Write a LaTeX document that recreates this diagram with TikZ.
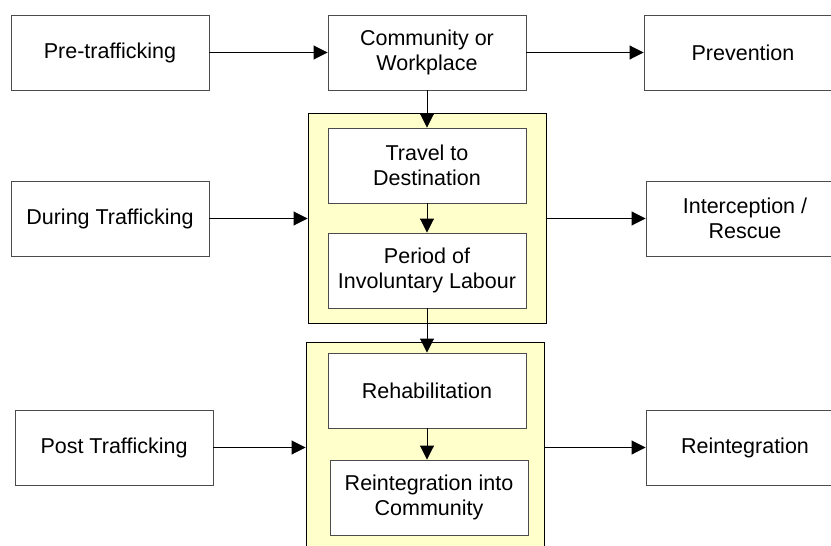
\documentclass[tikz,border=0pt]{standalone}
\usepackage{fontspec}
\setmainfont{Liberation Sans}
\usetikzlibrary{arrows.meta}
\definecolor{phasefill}{HTML}{FFFFCC}
\tikzset{
	stage/.style={draw=black!70, line width=0.9pt, fill=white, minimum width=198pt, minimum height=75pt, inner sep=2pt, align=center, font=\fontsize{21.5}{25}\selectfont},
	phase/.style={draw=black, line width=0.9pt, fill=phasefill, inner sep=0pt},
	flow/.style={-{Triangle[length=14pt,width=14pt]}, line width=0.9pt, black}
}
\begin{document}
\begin{tikzpicture}[x=1pt,y=-1pt]
	\clip (0,0) rectangle (831,546);
	% yellow phase frames
	\node[phase, minimum width=238pt, minimum height=210pt] (during) at (427,218) {};
	\node[phase, minimum width=238pt, minimum height=218pt] (post) at (425,451) {};
	% left column
	\node[stage] (pre) at (110,52.5) {Pre-trafficking};
	\node[stage] (dur) at (110,218.5) {During Trafficking};
	\node[stage] (pst) at (114,447.5) {Post Trafficking};
	% middle column
	\node[stage] (comm) at (427,52.5) {Community or\\Workplace};
	\node[stage] (travel) at (427,165.5) {Travel to\\Destination};
	\node[stage] (labour) at (427,270.5) {Period of\\Involuntary Labour};
	\node[stage] (rehab) at (427,390.5) {Rehabilitation};
	\node[stage] (reint) at (429,497.5) {Reintegration into\\Community};
	% right column
	\node[stage] (prev) at (743,52.5) {Prevention};
	\node[stage] (rescue) at (745,218.5) {Interception /\\Rescue};
	\node[stage] (reintR) at (745,447.5) {Reintegration};
	% connectors
	\draw[flow] (pre) -- (comm);
	\draw[flow] (comm) -- (prev);
	\draw[flow] (comm) -- (travel);
	\draw[flow] (travel) -- (labour);
	\draw[flow] (labour) -- (rehab);
	\draw[flow] (rehab.south) -- (rehab.south |- reint.north);
	\draw[flow] (dur) -- (during.west |- dur);
	\draw[flow] (during.east |- rescue) -- (rescue);
	\draw[flow] (pst) -- (post.west |- pst);
	\draw[flow] (post.east |- reintR) -- (reintR);
\end{tikzpicture}
\end{document}
